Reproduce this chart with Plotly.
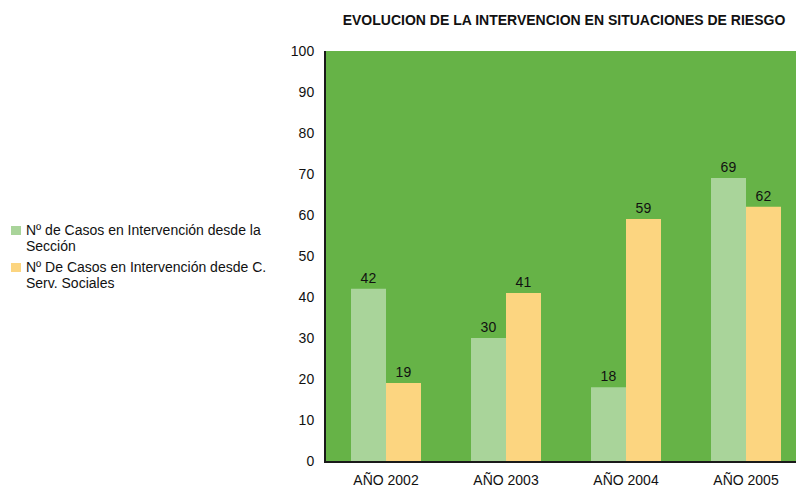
import plotly.graph_objects as go

categories = ["AÑO 2002", "AÑO 2003", "AÑO 2004", "AÑO 2005"]
seccion = [42, 30, 18, 69]
serv_sociales = [19, 41, 59, 62]
series_lines = [["Nº de Casos en Intervención desde la", "Sección"],
                ["Nº De Casos en Intervención desde C.", "Serv. Sociales"]]
series_colors = ["#A9D49A", "#FCD580"]
y_ticks = [0, 10, 20, 30, 40, 50, 60, 70, 80, 90, 100]

font = "Liberation Sans, Arial, sans-serif"
FS = 14

# layout geometry (page pixel coords; body margin removed below).
# The plot area runs past the right edge of the 796px window, as in the reference.
W, H = 812, 487
L, R, T, B = 326, 0, 51, 26
PW, PH = W - L - R, H - T - B


def px(x):
    return (x - L) / PW


def py(y):
    return (T + PH - y) / PH


fig = go.Figure()
for vals, lines, col in zip([seccion, serv_sociales], series_lines, series_colors):
    fig.add_trace(go.Bar(x=categories, y=vals, name=" ".join(lines),
                         marker=dict(color=col, line=dict(width=0)),
                         text=vals, textposition="outside",
                         textfont=dict(size=FS, color="#111111", family=font),
                         cliponaxis=False, showlegend=False))

# manual legend (Excel-like compact layout)
shapes = []
annotations = []
sq_tops = [226, 263]
line_centers = [[230, 246], [267, 283]]
for i, (lines, col) in enumerate(zip(series_lines, series_colors)):
    shapes.append(dict(type="rect", xref="paper", yref="paper",
                       x0=px(11), x1=px(21), y0=py(sq_tops[i]), y1=py(sq_tops[i] + 9),
                       fillcolor=col, line=dict(width=0)))
    for text, yc in zip(lines, line_centers[i]):
        annotations.append(dict(text=text, xref="paper", yref="paper",
                                x=px(24), y=py(yc), xanchor="left", yanchor="middle",
                                showarrow=False,
                                font=dict(size=FS, family=font, color="#111111")))

fig.update_layout(
    width=W, height=H,
    margin=dict(l=L, r=R, t=T, b=B),
    paper_bgcolor="white",
    plot_bgcolor="#66B347",
    barmode="group",
    bargap=0.4167, bargroupgap=0,
    font=dict(family=font, size=FS, color="#111111"),
    title=dict(text="<b>EVOLUCION DE LA INTERVENCION EN SITUACIONES DE RIESGO</b>",
               x=564 / W, xanchor="center", y=1 - 20.5 / H, yanchor="middle",
               font=dict(size=FS, family=font, color="#111111")),
    showlegend=False,
    shapes=shapes,
    annotations=annotations,
    xaxis=dict(range=[-0.5, -0.5 + PW / 120], showgrid=False, showline=True,
               linecolor="#1a1a1a", linewidth=2, ticks="", zeroline=False,
               tickfont=dict(size=FS, family=font), ticklabelstandoff=5,
               automargin=False, fixedrange=True),
    yaxis=dict(range=[0, 100], tickvals=y_ticks, showgrid=False, showline=True,
               linecolor="#1a1a1a", linewidth=2, ticks="", zeroline=False,
               tickfont=dict(size=FS, family=font), ticklabelstandoff=7,
               automargin=False, fixedrange=True),
)

fig.write_html("out.html",
               config={"displayModeBar": False},
               post_script="document.body.style.margin='0';"
                           "document.body.style.overflow='hidden';"
                           "document.documentElement.style.overflow='hidden';")
